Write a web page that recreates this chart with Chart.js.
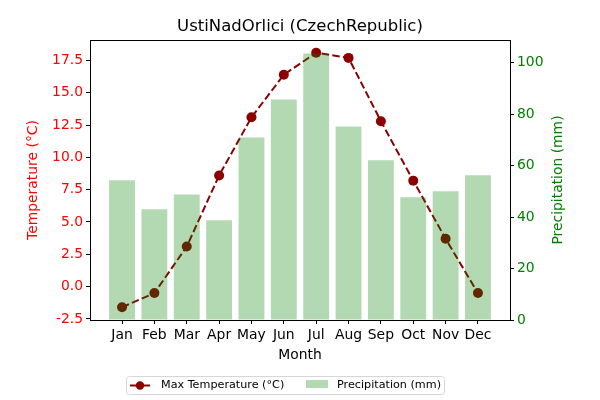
<!DOCTYPE html>
<html>
<head>
<meta charset="utf-8">
<script src="https://cdn.jsdelivr.net/npm/chart.js@4"></script>
<style>
  html, body { margin: 0; padding: 0; background: #fff; }
  #wrap { width: 600px; height: 400px; }
</style>
</head>
<body>
<div id="wrap"><canvas id="c" width="600" height="400"></canvas></div>
<script>
const months = ["Jan", "Feb", "Mar", "Apr", "May", "Jun", "Jul", "Aug", "Sep", "Oct", "Nov", "Dec"];
const maxTemp = [-1.6, -0.5, 3.1, 8.6, 13.1, 16.4, 18.1, 17.7, 12.8, 8.2, 3.7, -0.5];
const precip = [54.3, 43.0, 48.8, 38.8, 70.9, 85.7, 103.6, 75.2, 62.1, 47.7, 50.0, 56.2];

const FONT = "DejaVu Sans";
Chart.defaults.font.family = FONT;
Chart.defaults.animation = false;

// matplotlib-style frame, title, axis labels and legend
const decor = {
  id: "decor",
  afterDraw(chart) {
    const ctx = chart.ctx, a = chart.chartArea;
    ctx.save();
    ctx.strokeStyle = "#000";
    ctx.lineWidth = 1;
    ctx.strokeRect(Math.round(a.left) + 0.5, Math.round(a.top) + 0.5,
      Math.round(a.right - a.left), Math.round(a.bottom - a.top));

    ctx.fillStyle = "#000";
    ctx.textAlign = "center";
    ctx.textBaseline = "middle";
    ctx.font = "16.5px " + FONT;
    ctx.fillText("UstiNadOrlici (CzechRepublic)", (a.left + a.right) / 2, 27);

    ctx.font = "13.9px " + FONT;
    ctx.fillText("Month", (a.left + a.right) / 2, 355);

    const midY = (a.top + a.bottom) / 2;
    ctx.save();
    ctx.translate(33, midY);
    ctx.rotate(-Math.PI / 2);
    ctx.fillStyle = "red";
    ctx.fillText("Temperature (°C)", 0, 0);
    ctx.restore();

    ctx.save();
    ctx.translate(558, midY);
    ctx.rotate(-Math.PI / 2);
    ctx.fillStyle = "green";
    ctx.fillText("Precipitation (mm)", 0, 0);
    ctx.restore();

    // legend
    const lx = 126.5, ly = 376.5, lw = 318, lh = 18, r = 3;
    ctx.beginPath();
    ctx.moveTo(lx + r, ly);
    ctx.arcTo(lx + lw, ly, lx + lw, ly + lh, r);
    ctx.arcTo(lx + lw, ly + lh, lx, ly + lh, r);
    ctx.arcTo(lx, ly + lh, lx, ly, r);
    ctx.arcTo(lx, ly, lx + lw, ly, r);
    ctx.closePath();
    ctx.fillStyle = "rgba(255,255,255,0.8)";
    ctx.fill();
    ctx.strokeStyle = "#d6d6d6";
    ctx.stroke();

    const cy = 385.5;
    ctx.strokeStyle = "#8B0000";
    ctx.lineWidth = 2;
    ctx.beginPath();
    ctx.moveTo(130, cy);
    ctx.lineTo(150, cy);
    ctx.stroke();
    ctx.fillStyle = "#8B0000";
    ctx.beginPath();
    ctx.arc(140, cy, 4.2, 0, Math.PI * 2);
    ctx.fill();

    ctx.fillStyle = "rgba(0,128,0,0.3)";
    ctx.fillRect(306, 380, 22, 8);

    ctx.fillStyle = "#000";
    ctx.textAlign = "left";
    ctx.font = "11.2px " + FONT;
    ctx.fillText("Max Temperature (°C)", 161, cy);
    ctx.fillText("Precipitation (mm)", 337, cy);
    ctx.restore();
  }
};

const tickGrid = { display: true, drawOnChartArea: false, drawTicks: true, tickLength: 4, color: "#000", offset: false };

new Chart(document.getElementById("c"), {
  type: "bar",
  data: {
    datasets: [
      {
        type: "line",
        label: "Max Temperature (°C)",
        data: maxTemp.map((v, i) => ({ x: i, y: v })),
        yAxisID: "y",
        borderColor: "#8B0000",
        backgroundColor: "#8B0000",
        borderWidth: 2,
        borderDash: [7.5, 3.3],
        pointRadius: 5,
        pointBorderWidth: 0,
        pointBackgroundColor: "#8B0000",
        tension: 0,
        order: 2
      },
      {
        type: "bar",
        label: "Precipitation (mm)",
        data: precip.map((v, i) => ({ x: i, y: v })),
        yAxisID: "y1",
        backgroundColor: "rgba(0,128,0,0.3)",
        borderWidth: 0,
        categoryPercentage: 1,
        barPercentage: 0.8,
        order: 1
      }
    ]
  },
  options: {
    responsive: false,
    layout: { padding: { top: 40, left: 0, right: 0, bottom: 0 } },
    plugins: { legend: { display: false }, tooltip: { enabled: false }, title: { display: false } },
    scales: {
      x: {
        type: "linear",
        offset: false,
        min: -0.99,
        max: 11.99,
        grid: tickGrid,
        border: { display: false },
        ticks: {
          stepSize: 1,
          includeBounds: false,
          autoSkip: false,
          maxRotation: 0,
          padding: 3,
          color: "#000",
          font: { size: 13.9 },
          callback: (v) => months[v] ?? ""
        },
        afterFit: (s) => { s.height = 80; }
      },
      y: {
        position: "left",
        min: -2.585,
        max: 19.085,
        grid: tickGrid,
        border: { display: false },
        ticks: {
          stepSize: 2.5,
          includeBounds: false,
          padding: 3,
          color: "red",
          font: { size: 13.9 },
          callback: (v) => v.toFixed(1)
        },
        afterFit: (s) => { s.width = 90; }
      },
      y1: {
        position: "right",
        min: 0,
        max: 108.8,
        grid: tickGrid,
        border: { display: false },
        ticks: {
          stepSize: 20,
          includeBounds: false,
          padding: 3,
          color: "green",
          font: { size: 13.9 }
        },
        afterFit: (s) => { s.width = 90; }
      }
    }
  },
  plugins: [decor]
});
</script>
</body>
</html>
